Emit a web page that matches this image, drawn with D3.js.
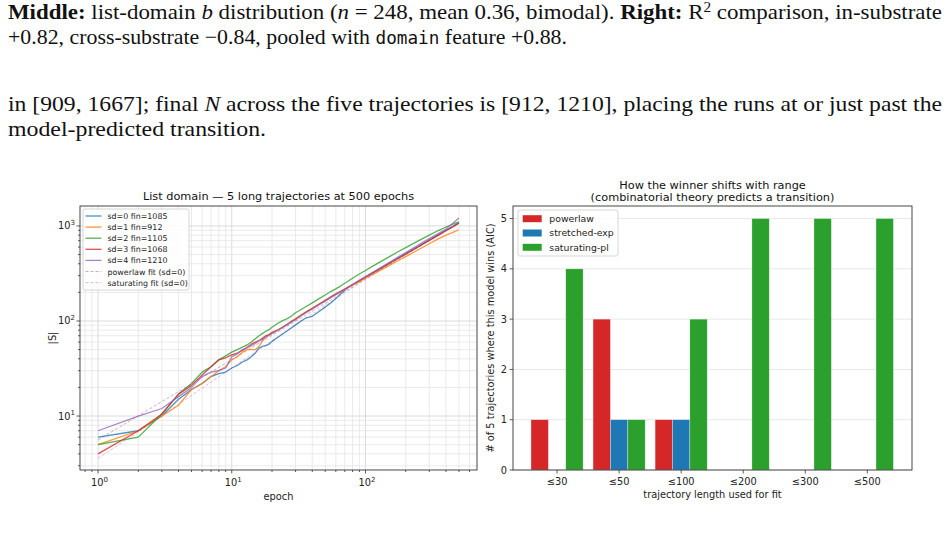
<!DOCTYPE html>
<html>
<head>
<meta charset="utf-8">
<script src="https://cdn.jsdelivr.net/npm/d3@7"></script>
<style>
  html, body { margin: 0; padding: 0; background: #fff; }
  svg { display: block; }
</style>
</head>
<body>
<script>
// ---------------- DATA ----------------
const epochs = [1,2,3,4,5,6,7,8,9,10,11,12,13,14,15,16,17,18,19,20,22,24,26,28,30,33,36,40,45,50,55,60,65,72,80,90,100,115,130,150,175,200,250,300,350,400,450,500];
const sd0 = [6,7,10,15,19,22,26,28,29,32,34,37,39,42,46,52,54,55,57,61,67,73,79,85,91,100,108,112,126,140,155,172,192,218,240,265,290,325,360,405,458,510,610,712,806,900,990,1085];
const sd1 = [5,7,10,13,19,22,26,30,33,39,42,47,50,50,50,54,62,68,71,74,80,86,92,99,106,116,125,137,151,164,178,190,202,220,238,260,282,313,343,382,430,475,565,650,730,800,858,912];
const sd2 = [5,6,10.5,17,22,29,33,39,43,47,50,53,56,60,65,70,74,78,81,86,94,101,106,113,122,132,142,155,172,188,204,218,233,256,282,312,340,382,422,472,535,592,700,800,895,975,1045,1105];
const sd3 = [4,7,10.5,17,21,27,33,39,41,44,46,49,53,57,60,62,66,70,72,76,80,86,92,99,104,114,124,135,150,165,180,193,205,222,242,266,290,325,358,402,455,505,608,705,797,890,978,1068];
const sd4 = [7,10,12,16,20,26,29,30,32,42,45,50,52,55,58,62,64,68,71,74,80,86,92,98,104,114,123,134,148,162,176,189,202,221,242,268,293,330,366,413,470,525,633,738,830,930,1065,1210];
const seriesNames = ["sd=0 fin=1085","sd=1 fin=912","sd=2 fin=1105","sd=3 fin=1068","sd=4 fin=1210"];
const powerlawFitEpochs = [1,500];
const powerlawFitValues = [5.6,1075];
const saturatingFitEpochs = [1,2,3,5,10,20,50,100,200,500];
const saturatingFitValues = [3.6,6.8,10,16.5,32,62,145,275,520,1080];

const categories = ["≤30","≤50","≤100","≤200","≤300","≤500"];
const powerlaw     = [1,3,1,0,0,0];
const stretchedExp = [0,1,1,0,0,0];
const saturatingPl = [4,1,3,5,5,5];
const barSeriesNames = ["powerlaw","stretched-exp","saturating-pl"];
const barYTicks = [0,1,2,3,4,5];
const logXTicks = [1,10,100];
const logYTicks = [10,100,1000];
const logTickExponents = ["0","1","2","3"];

// ---------------- SETUP ----------------
const C = {blue:"#1f77b4", orange:"#ff7f0e", green:"#2ca02c", red:"#d62728", purple:"#9467bd", brown:"#8c564b", pink:"#e377c2"};
const SANS = "'DejaVu Sans', sans-serif";
const TICK = 9.8, LAB = 9.8, TITLE = 11.3;
const svg = d3.select("body").append("svg").attr("width",951).attr("height",533);

// ---------------- TOP TEXT ----------------
function richLine(y, parts, len) {
  const t = svg.append("text").attr("x",8).attr("y",y)
    .attr("font-family","'Liberation Serif', serif").attr("font-size",21).attr("fill","#111");
  if (len) t.attr("textLength",len).attr("lengthAdjust","spacingAndGlyphs");
  parts.forEach(p => {
    const ts = t.append("tspan").text(p.t);
    if (p.b) ts.attr("font-weight","bold");
    if (p.i) ts.attr("font-style","italic");
    if (p.m) ts.attr("font-family","'DejaVu Sans Mono', monospace").attr("font-size",17);
    if (p.sup) ts.attr("baseline-shift","super").attr("font-size",14);
  });
}
richLine(19, [{t:"Middle:",b:1},{t:" list-domain "},{t:"b",i:1},{t:" distribution ("},{t:"n",i:1},{t:" = 248, mean 0.36, bimodal).  "},{t:"Right:",b:1},{t:" R"},{t:"2",sup:1},{t:" comparison, in-substrate"}], 934);
richLine(44, [{t:"+0.82, cross-substrate −0.84, pooled with "},{t:"domain",m:1},{t:" feature +0.88."}], 559);
richLine(111, [{t:"in [909, 1667]; final "},{t:"N",i:1},{t:" across the five trajectories is [912, 1210], placing the runs at or just past the"}], 934);
richLine(136, [{t:"model-predicted transition."}], 258);

// ---------------- LEFT CHART ----------------
const L = {x0:80, x1:477, y0:206, y1:470};
const lx = d3.scaleLog().domain([Math.pow(10,-0.135), Math.pow(10,2.834)]).range([L.x0, L.x1]);
const ly = d3.scaleLog().domain([Math.pow(10,0.432), Math.pow(10,3.21)]).range([L.y1, L.y0]);
const gL = svg.append("g");

function logTicks(scale) {
  const [a,b] = scale.domain();
  const out = [];
  for (let e = Math.floor(Math.log10(a)); e <= Math.ceil(Math.log10(b)); e++) {
    for (let m = 1; m <= 9; m++) {
      const v = m*Math.pow(10,e);
      if (v >= a && v <= b) out.push({v, major: m===1});
    }
  }
  return out;
}
const xt = logTicks(lx), yt = logTicks(ly);
xt.forEach(t => gL.append("line").attr("x1",lx(t.v)).attr("x2",lx(t.v)).attr("y1",L.y0).attr("y2",L.y1)
  .attr("stroke", t.major ? "#d2d2d2" : "#e4e4e4").attr("stroke-width",0.8));
yt.forEach(t => gL.append("line").attr("y1",ly(t.v)).attr("y2",ly(t.v)).attr("x1",L.x0).attr("x2",L.x1)
  .attr("stroke", t.major ? "#d2d2d2" : "#e4e4e4").attr("stroke-width",0.8));

const lineGen = d3.line().x(d => lx(d[0])).y(d => ly(d[1]));
const trajs = [sd0, sd1, sd2, sd3, sd4];
const trajColors = [C.blue, C.orange, C.green, C.red, C.purple];
gL.append("path").datum(powerlawFitEpochs.map((e,i)=>[e,powerlawFitValues[i]])).attr("d",lineGen)
  .attr("fill","none").attr("stroke",C.brown).attr("stroke-width",1).attr("stroke-dasharray","3,2").attr("opacity",0.45);
gL.append("path").datum(saturatingFitEpochs.map((e,i)=>[e,saturatingFitValues[i]])).attr("d",lineGen)
  .attr("fill","none").attr("stroke",C.pink).attr("stroke-width",1).attr("stroke-dasharray","3,2").attr("opacity",0.55);
trajs.forEach((s,k) => {
  gL.append("path").datum(epochs.map((e,i)=>[e,s[i]])).attr("d",lineGen)
    .attr("fill","none").attr("stroke",trajColors[k]).attr("stroke-width",1.3).attr("opacity",0.8)
    .attr("stroke-linejoin","round");
});

gL.append("rect").attr("x",L.x0).attr("y",L.y0).attr("width",L.x1-L.x0).attr("height",L.y1-L.y0)
  .attr("fill","none").attr("stroke","#333").attr("stroke-width",0.9);
xt.forEach(t => gL.append("line").attr("x1",lx(t.v)).attr("x2",lx(t.v)).attr("y1",L.y1).attr("y2",L.y1+(t.major?3.5:2))
  .attr("stroke","#333").attr("stroke-width",0.8));
yt.forEach(t => gL.append("line").attr("y1",ly(t.v)).attr("y2",ly(t.v)).attr("x1",L.x0).attr("x2",L.x0-(t.major?3.5:2))
  .attr("stroke","#333").attr("stroke-width",0.8));
function powLabel(g, x, y, exp, anchor) {
  const t = g.append("text").attr("x",x).attr("y",y).attr("font-family",SANS).attr("font-size",TICK)
    .attr("fill","#222").attr("text-anchor",anchor);
  t.append("tspan").text("10");
  t.append("tspan").text(exp).attr("font-size",7).attr("dy",-4.5);
}
logXTicks.forEach((v,i) => powLabel(gL, lx(v)+1.5, L.y1+16, logTickExponents[i], "middle"));
logYTicks.forEach((v,i) => powLabel(gL, L.x0-5, ly(v)+3.5, logTickExponents[i+1], "end"));
gL.append("text").attr("x",(L.x0+L.x1)/2).attr("y",L.y1+29.5).attr("text-anchor","middle")
  .attr("font-family",SANS).attr("font-size",LAB).attr("fill","#222").text("epoch");
gL.append("text").attr("transform",`translate(56,${(L.y0+L.y1)/2}) rotate(-90)`).attr("text-anchor","middle")
  .attr("font-family",SANS).attr("font-size",LAB).attr("fill","#222").text("|S|");
gL.append("text").attr("x",(L.x0+L.x1)/2).attr("y",200).attr("text-anchor","middle")
  .attr("font-family",SANS).attr("font-size",TITLE).attr("fill","#111").text("List domain — 5 long trajectories at 500 epochs");

const lg = gL.append("g");
lg.append("rect").attr("x",83).attr("y",209).attr("width",106).attr("height",81).attr("rx",2)
  .attr("fill","#fff").attr("fill-opacity",0.85).attr("stroke","#ccc").attr("stroke-width",0.8);
const legItems = seriesNames.map((n,i)=>({n, c:trajColors[i], dash:null, op:0.8}))
  .concat([{n:"powerlaw fit (sd=0)", c:C.brown, dash:"3,2", op:0.45},{n:"saturating fit (sd=0)", c:C.pink, dash:"3,2", op:0.55}]);
legItems.forEach((it,i) => {
  const y = 216 + i*11.1;
  lg.append("line").attr("x1",85.5).attr("x2",101.5).attr("y1",y).attr("y2",y).attr("stroke",it.c)
    .attr("stroke-width",it.dash?1:1.3).attr("opacity",it.op).attr("stroke-dasharray",it.dash);
  lg.append("text").attr("x",107.5).attr("y",y+3).attr("font-family",SANS).attr("font-size",7.9)
    .attr("fill","#222").text(it.n);
});

// ---------------- RIGHT CHART ----------------
const R = {x0:513, x1:912, y0:206, y1:470};
const rx = d3.scaleLinear().domain([-0.71, 5.72]).range([R.x0, R.x1]);
const ry = d3.scaleLinear().domain([0, 5.25]).range([R.y1, R.y0]);
const gR = svg.append("g");
const bw = 0.28;
barYTicks.forEach(v => gR.append("line").attr("x1",R.x0).attr("x2",R.x1).attr("y1",ry(v)).attr("y2",ry(v))
  .attr("stroke","#e8e8e8").attr("stroke-width",1));
const barSets = [powerlaw, stretchedExp, saturatingPl];
const barColors = [C.red, C.blue, C.green];
barSets.forEach((vals,k) => {
  gR.selectAll(null).data(vals.map((v,i)=>({v,i}))).enter().append("rect")
    .attr("x", d => rx(d.i + (k-1)*bw - bw/2))
    .attr("width", d => rx(bw) - rx(0))
    .attr("y", d => ry(d.v))
    .attr("height", d => ry(0) - ry(d.v))
    .attr("fill", barColors[k]).attr("stroke","#fff").attr("stroke-opacity",0.5).attr("stroke-width",0.6);
});
gR.append("rect").attr("x",R.x0).attr("y",R.y0).attr("width",R.x1-R.x0).attr("height",R.y1-R.y0)
  .attr("fill","none").attr("stroke","#333").attr("stroke-width",0.9);
categories.forEach((c,i) => {
  gR.append("line").attr("x1",rx(i)).attr("x2",rx(i)).attr("y1",R.y1).attr("y2",R.y1+3.5).attr("stroke","#333").attr("stroke-width",0.8);
  gR.append("text").attr("x",rx(i)).attr("y",R.y1+15).attr("text-anchor","middle").attr("font-family",SANS)
    .attr("font-size",TICK).attr("fill","#222").text(c);
});
barYTicks.forEach(v => {
  gR.append("line").attr("x1",R.x0).attr("x2",R.x0-3.5).attr("y1",ry(v)).attr("y2",ry(v)).attr("stroke","#333").attr("stroke-width",0.8);
  gR.append("text").attr("x",R.x0-6).attr("y",ry(v)+3.5).attr("text-anchor","end").attr("font-family",SANS)
    .attr("font-size",TICK).attr("fill","#222").text(v);
});
gR.append("text").attr("x",(R.x0+R.x1)/2).attr("y",R.y1+28).attr("text-anchor","middle")
  .attr("font-family",SANS).attr("font-size",LAB).attr("fill","#222").text("trajectory length used for fit");
gR.append("text").attr("transform",`translate(494,${(R.y0+R.y1)/2}) rotate(-90)`).attr("text-anchor","middle")
  .attr("font-family",SANS).attr("font-size",LAB).attr("fill","#222").text("# of 5 trajectories where this model wins (AIC)");
gR.append("text").attr("x",(R.x0+R.x1)/2).attr("y",189).attr("text-anchor","middle")
  .attr("font-family",SANS).attr("font-size",TITLE).attr("fill","#111").text("How the winner shifts with range");
gR.append("text").attr("x",(R.x0+R.x1)/2).attr("y",200.5).attr("text-anchor","middle")
  .attr("font-family",SANS).attr("font-size",TITLE).attr("fill","#111").text("(combinatorial theory predicts a transition)");
const rg = gR.append("g");
rg.append("rect").attr("x",518).attr("y",210).attr("width",100).attr("height",46).attr("rx",2)
  .attr("fill","#fff").attr("fill-opacity",0.85).attr("stroke","#ccc").attr("stroke-width",0.8);
barSeriesNames.forEach((n,i) => {
  const y = 218.7 + i*14.3;
  rg.append("rect").attr("x",522.7).attr("y",y-3.5).attr("width",19).attr("height",7).attr("fill",barColors[i]);
  rg.append("text").attr("x",549.3).attr("y",y+3.3).attr("font-family",SANS).attr("font-size",9.3)
    .attr("fill","#222").text(n);
});
</script>
</body>
</html>
